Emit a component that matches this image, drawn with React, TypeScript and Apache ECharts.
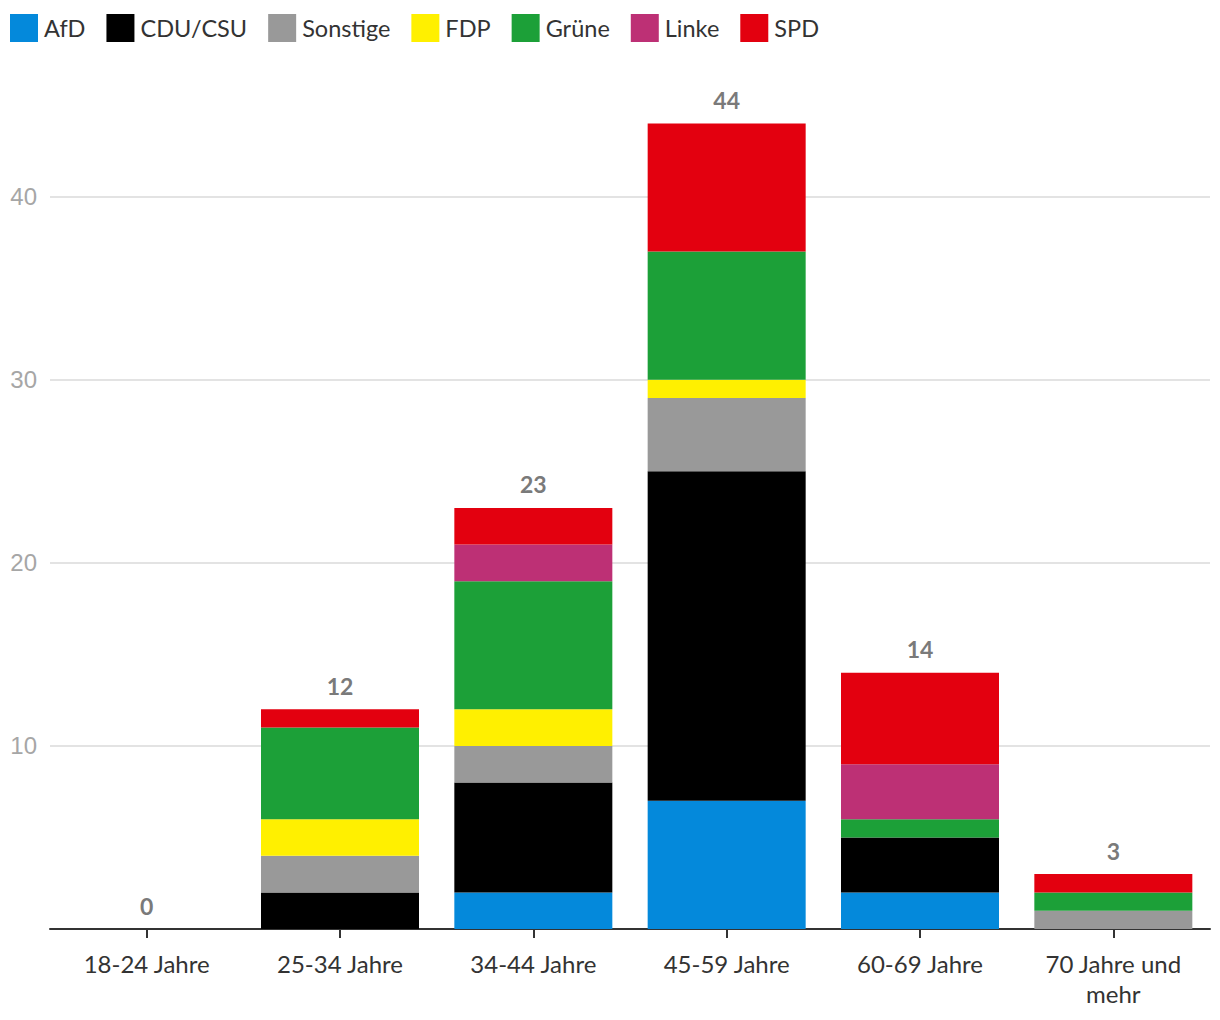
import React, { useEffect, useRef } from "react";
import * as echarts from "echarts";

const categories = ["18-24 Jahre", "25-34 Jahre", "34-44 Jahre", "45-59 Jahre", "60-69 Jahre", "70 Jahre und\nmehr"];
const parties = ["AfD", "CDU/CSU", "Sonstige", "FDP", "Grüne", "Linke", "SPD"];
const colors = ["#0489db", "#000000", "#999999", "#fff000", "#1ca038", "#bd3075", "#e3000f"];
const afd = [0, 0, 2, 7, 2, 0];
const cdu = [0, 2, 6, 18, 3, 0];
const sonstige = [0, 2, 2, 4, 0, 1];
const fdp = [0, 2, 2, 1, 0, 0];
const gruene = [0, 5, 7, 7, 1, 1];
const linke = [0, 0, 2, 0, 3, 0];
const spd = [0, 1, 2, 7, 5, 1];
const seriesValues = [afd, cdu, sonstige, fdp, gruene, linke, spd];
const totals = categories.map((_, i) => seriesValues.reduce((s, arr) => s + arr[i], 0));
const zeros = categories.map(() => 0);

export default function App() {
  const ref = useRef<HTMLDivElement>(null);
  useEffect(() => {
    const chart = echarts.init(ref.current!, null, { renderer: "svg" });
    const grid = "#e3e3e3";
    chart.setOption({
      animation: false,
      legend: {
        data: parties,
        left: 10,
        top: 14,
        padding: 0,
        itemWidth: 28,
        itemHeight: 28,
        itemGap: 21,
        icon: "rect",
        selectedMode: false,
        textStyle: { fontFamily: "Lato", fontSize: 23.5, color: "#333", padding: [0, 0, 0, 1] },
      },
      grid: { left: 50, right: 10, top: 123.4, bottom: 91, containLabel: false },
      xAxis: {
        type: "category",
        data: categories,
        axisLine: { lineStyle: { color: "#333", width: 2 } },
        axisTick: { show: true, alignWithLabel: true, length: 9, lineStyle: { color: "#333", width: 2 } },
        axisLabel: { fontFamily: "Lato", fontSize: 24, color: "#333", margin: 19, lineHeight: 30, interval: 0 },
      },
      yAxis: {
        type: "value",
        min: 0,
        max: 44,
        interval: 10,
        axisLine: { show: false },
        axisTick: { show: false },
        splitLine: { lineStyle: { color: [grid, grid, grid, grid, grid, "rgba(0,0,0,0)"], width: 2 } },
        axisLabel: {
          fontFamily: "Liberation Sans",
          fontSize: 24,
          color: "#a6a6a6",
          margin: 13,
          showMaxLabel: false,
          showMinLabel: false,
        },
      },
      series: [
        ...parties.map((p, i) => ({
          name: p,
          type: "bar",
          stack: "total",
          data: seriesValues[i],
          barWidth: 158,
          itemStyle: { color: colors[i] },
        })),
        {
          name: "Gesamt",
          type: "bar",
          stack: "total",
          data: zeros,
          barWidth: 158,
          itemStyle: { color: "rgba(0,0,0,0)" },
          label: {
            show: true,
            position: "top",
            distance: 12,
            formatter: (p: any) => String(totals[p.dataIndex]),
            fontFamily: "Lato",
            fontWeight: "bold",
            fontSize: 23,
            color: "#7a7a7a",
          },
          z: 10,
        },
      ],
    });
    return () => chart.dispose();
  }, []);
  return <div ref={ref} style={{ width: 1220, height: 1020, position: "absolute", left: 0, top: 0 }} />;
}
